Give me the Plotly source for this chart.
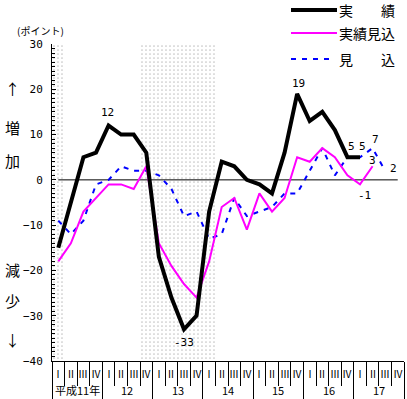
import plotly.graph_objects as go

# ---------------- data ----------------
quarter_labels = ["Ⅰ", "Ⅱ", "Ⅲ", "Ⅳ"] * 7
year_labels = ["平成11年", "12", "13", "14", "15", "16", "17"]
actual = [-15, -5, 5, 6, 12, 10, 10, 6, -17, -26, -33, -30, -7, 4, 3, 0, -1, -3, 6, 19, 13, 15, 11, 5, 5]
estimate = [-18, -14, -7, -4, -1, -1, -2, 3, -14, -19, -23, -26, -18, -6, -4, -11, -3, -7, -4, 5, 4, 7, 5, 1, -1, 3]
forecast = [-9, -12, -9, -1, 0, 3, 2, 2, 1, -2, -8, -7, -13, -12, -4, -8, -7, -6, -3, -3, 2, 7, 1, 5, 5, 7, 2]
shaded_periods = [(0, 0), (7, 12)]  # quarter index ranges (recession periods)
y_ticks = [30, 20, 10, 0, -10, -20, -30, -40]
series_names = ["実　　績", "実績見込", "見　　込"]

n_q = len(quarter_labels)

# ---------------- layout geometry ----------------
W, H = 407, 399
L, R, T, B = 52, 404, 44, 361
PW, PH = R - L, B - T


def px(x):
    return (x - L) / PW


def py(y):
    return (B - y) / PH


JP = "Noto Sans CJK JP"
MONO = "DejaVu Sans Mono"
BLUE_DASH = "5px,6px"

fig = go.Figure()

# shaded (dotted) periods
for a, b in shaded_periods:
    fig.add_trace(go.Scatter(
        x=[a - 0.5, b + 0.5, b + 0.5, a - 0.5, a - 0.5],
        y=[-40, -40, 30, 30, -40],
        mode="lines", line=dict(width=0), fill="toself",
        fillcolor="rgba(0,0,0,0)",
        fillpattern=dict(shape=".", size=4, solidity=0.15,
                         fgcolor="#8c8c8c", bgcolor="rgba(0,0,0,0)"),
        hoverinfo="skip", showlegend=False))

# zero line from first to last quarter centre
fig.add_trace(go.Scatter(x=[0, n_q - 1], y=[0, 0], mode="lines",
                         line=dict(color="black", width=1),
                         hoverinfo="skip", showlegend=False))

fig.add_trace(go.Scatter(x=list(range(len(forecast))), y=forecast, mode="lines",
                         line=dict(color="#0000FF", width=2, dash=BLUE_DASH),
                         name=series_names[2], showlegend=False))
fig.add_trace(go.Scatter(x=list(range(len(estimate))), y=estimate, mode="lines",
                         line=dict(color="#FF00FF", width=2),
                         name=series_names[1], showlegend=False))
fig.add_trace(go.Scatter(x=list(range(len(actual))), y=actual, mode="lines",
                         line=dict(color="black", width=4),
                         name=series_names[0], showlegend=False))

annotations = []


def ann(**kw):
    kw.setdefault("showarrow", False)
    kw.setdefault("xanchor", "center")
    kw.setdefault("yanchor", "middle")
    annotations.append(kw)


# value labels
value_labels = [
    (4, actual[4], "12", -1, 13),
    (10, actual[10], "-33", 0, -13),
    (19, actual[19], "19", 1, 10),
    (23, actual[23], "5", 4, 11),
    (24, actual[24], "5", 2, 11),
    (25, forecast[25], "7", 3, 9),
    (25, estimate[25], "3", 0, 6),
    (26, forecast[26], "2", 8, 2),
    (24, estimate[24], "-1", 4, -11),
]
for xi, yv, txt, dx, dy in value_labels:
    ann(x=xi, y=yv, xref="x", yref="y", text=txt, xshift=dx, yshift=dy,
        font=dict(family=MONO, size=11, color="black"))

# quarter labels
for i, q in enumerate(quarter_labels):
    ann(x=i, y=py(373), xref="x", yref="paper", text=q,
        font=dict(family=JP, size=10, color="black"))
# year labels
for k, yl in enumerate(year_labels):
    ann(x=4 * k + 1.5, y=py(390), xref="x", yref="paper", text=yl,
        font=dict(family=JP, size=11, color="black"))

# unit and side labels
ann(x=px(40), y=py(30), xref="paper", yref="paper", text="(ポイント)",
    font=dict(family=JP, size=10, color="black"))
for ch, yy in [("↑", 88), ("増", 127), ("加", 160), ("減", 269), ("少", 300), ("↓", 339)]:
    ann(x=px(12), y=py(yy), xref="paper", yref="paper", text=ch,
        font=dict(family=JP, size=15, color="black"))

# legend
shapes = []
legend_rows = [
    (series_names[0], 10, dict(color="black", width=4), 337),
    (series_names[1], 33, dict(color="#FF00FF", width=2), 337),
    (series_names[2], 59, dict(color="#0000FF", width=2, dash=BLUE_DASH), 332),
]
for name, yy, ln, xend in legend_rows:
    shapes.append(dict(type="line", xref="paper", yref="paper",
                       x0=px(291), x1=px(xend), y0=py(yy), y1=py(yy), line=ln))
    ann(x=px(366.5), y=py(yy), xref="paper", yref="paper", text=name,
        font=dict(family=JP, size=14, color="black"))

fig.update_layout(
    width=W, height=H,
    margin=dict(l=L, r=W - R, t=T, b=H - B, autoexpand=False),
    paper_bgcolor="white", plot_bgcolor="white",
    showlegend=False,
    annotations=annotations, shapes=shapes,
    xaxis=dict(range=[-0.5, n_q - 0.5], showgrid=False, zeroline=False, automargin=False,
               showline=True, linecolor="black", linewidth=1,
               tickmode="array", tickvals=[4 * k - 0.5 for k in range(len(year_labels) + 1)],
               ticks="outside", ticklen=H - B, tickcolor="black", tickwidth=1,
               showticklabels=False,
               minor=dict(tickmode="array", tickvals=[i - 0.5 for i in range(n_q + 1)],
                          ticks="outside", ticklen=24, tickcolor="black", tickwidth=1,
                          showgrid=False)),
    yaxis=dict(range=[-40, 30], showgrid=False, zeroline=False, automargin=False,
               showline=True, linecolor="black", linewidth=1,
               tickmode="array", tickvals=y_ticks,
               ticks="inside", ticklen=4, tickcolor="black",
               ticklabelstandoff=6,
               tickfont=dict(family=MONO, size=11, color="black"),
               minor=dict(dtick=1, ticks="inside", ticklen=3, tickcolor="black",
                          showgrid=False)),
)

fig.write_html("out.html", config={"displayModeBar": False},
               post_script="document.body.style.margin='0';document.body.style.overflow='hidden';")
